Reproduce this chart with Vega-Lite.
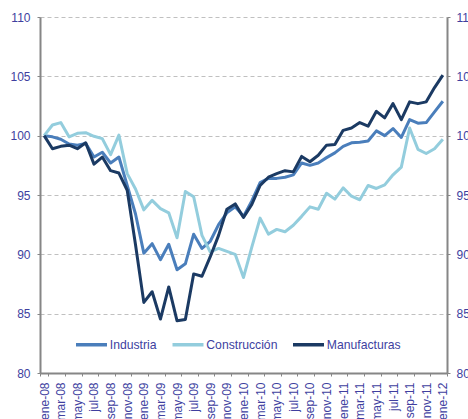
{
"$schema": "https://vega.github.io/schema/vega-lite/v6.json",
"width": 407, "height": 356,
"autosize": {"type": "none"},
"padding": {"left": 40, "top": 17, "right": 21, "bottom": 46},
"background": "white",
"config": {"view": {"stroke": null}, "font": "Liberation Sans"},
"datasets": {
"d": [
{"i":0,"mes":"ene-08","s":"Industria","v":100},{"i":1,"mes":"feb-08","s":"Industria","v":99.9},{"i":2,"mes":"mar-08","s":"Industria","v":99.7},{"i":3,"mes":"abr-08","s":"Industria","v":99.3},{"i":4,"mes":"may-08","s":"Industria","v":99.2},{"i":5,"mes":"jun-08","s":"Industria","v":99.35},{"i":6,"mes":"jul-08","s":"Industria","v":98.2},{"i":7,"mes":"ago-08","s":"Industria","v":98.6},{"i":8,"mes":"sep-08","s":"Industria","v":97.7},{"i":9,"mes":"oct-08","s":"Industria","v":98.2},{"i":10,"mes":"nov-08","s":"Industria","v":95.8},{"i":11,"mes":"dic-08","s":"Industria","v":93.4},
{"i":12,"mes":"ene-09","s":"Industria","v":90.1},{"i":13,"mes":"feb-09","s":"Industria","v":90.9},{"i":14,"mes":"mar-09","s":"Industria","v":89.55},{"i":15,"mes":"abr-09","s":"Industria","v":90.85},{"i":16,"mes":"may-09","s":"Industria","v":88.7},{"i":17,"mes":"jun-09","s":"Industria","v":89.2},{"i":18,"mes":"jul-09","s":"Industria","v":91.7},{"i":19,"mes":"ago-09","s":"Industria","v":90.5},{"i":20,"mes":"sep-09","s":"Industria","v":91.1},{"i":21,"mes":"oct-09","s":"Industria","v":92.5},{"i":22,"mes":"nov-09","s":"Industria","v":93.5},{"i":23,"mes":"dic-09","s":"Industria","v":94.0},
{"i":24,"mes":"ene-10","s":"Industria","v":93.2},{"i":25,"mes":"feb-10","s":"Industria","v":94.5},{"i":26,"mes":"mar-10","s":"Industria","v":96.05},{"i":27,"mes":"abr-10","s":"Industria","v":96.4},{"i":28,"mes":"may-10","s":"Industria","v":96.4},{"i":29,"mes":"jun-10","s":"Industria","v":96.5},{"i":30,"mes":"jul-10","s":"Industria","v":96.7},{"i":31,"mes":"ago-10","s":"Industria","v":97.7},{"i":32,"mes":"sep-10","s":"Industria","v":97.5},{"i":33,"mes":"oct-10","s":"Industria","v":97.7},{"i":34,"mes":"nov-10","s":"Industria","v":98.15},{"i":35,"mes":"dic-10","s":"Industria","v":98.55},
{"i":36,"mes":"ene-11","s":"Industria","v":99.1},{"i":37,"mes":"feb-11","s":"Industria","v":99.4},{"i":38,"mes":"mar-11","s":"Industria","v":99.45},{"i":39,"mes":"abr-11","s":"Industria","v":99.55},{"i":40,"mes":"may-11","s":"Industria","v":100.4},{"i":41,"mes":"jun-11","s":"Industria","v":100.0},{"i":42,"mes":"jul-11","s":"Industria","v":100.6},{"i":43,"mes":"ago-11","s":"Industria","v":99.85},{"i":44,"mes":"sep-11","s":"Industria","v":101.35},{"i":45,"mes":"oct-11","s":"Industria","v":101.05},{"i":46,"mes":"nov-11","s":"Industria","v":101.1},{"i":47,"mes":"dic-11","s":"Industria","v":102.0},
{"i":48,"mes":"ene-12","s":"Industria","v":102.9},
{"i":0,"mes":"ene-08","s":"Construcción","v":100},{"i":1,"mes":"feb-08","s":"Construcción","v":100.9},{"i":2,"mes":"mar-08","s":"Construcción","v":101.1},{"i":3,"mes":"abr-08","s":"Construcción","v":99.9},{"i":4,"mes":"may-08","s":"Construcción","v":100.2},{"i":5,"mes":"jun-08","s":"Construcción","v":100.25},{"i":6,"mes":"jul-08","s":"Construcción","v":99.95},{"i":7,"mes":"ago-08","s":"Construcción","v":99.75},{"i":8,"mes":"sep-08","s":"Construcción","v":98.4},{"i":9,"mes":"oct-08","s":"Construcción","v":100.05},{"i":10,"mes":"nov-08","s":"Construcción","v":96.8},{"i":11,"mes":"dic-08","s":"Construcción","v":95.5},
{"i":12,"mes":"ene-09","s":"Construcción","v":93.75},{"i":13,"mes":"feb-09","s":"Construcción","v":94.55},{"i":14,"mes":"mar-09","s":"Construcción","v":93.85},{"i":15,"mes":"abr-09","s":"Construcción","v":93.5},{"i":16,"mes":"may-09","s":"Construcción","v":91.4},{"i":17,"mes":"jun-09","s":"Construcción","v":95.3},{"i":18,"mes":"jul-09","s":"Construcción","v":94.85},{"i":19,"mes":"ago-09","s":"Construcción","v":91.6},{"i":20,"mes":"sep-09","s":"Construcción","v":90.2},{"i":21,"mes":"oct-09","s":"Construcción","v":90.5},{"i":22,"mes":"nov-09","s":"Construcción","v":90.25},{"i":23,"mes":"dic-09","s":"Construcción","v":90.0},
{"i":24,"mes":"ene-10","s":"Construcción","v":88.05},{"i":25,"mes":"feb-10","s":"Construcción","v":90.6},{"i":26,"mes":"mar-10","s":"Construcción","v":93.05},{"i":27,"mes":"abr-10","s":"Construcción","v":91.7},{"i":28,"mes":"may-10","s":"Construcción","v":92.1},{"i":29,"mes":"jun-10","s":"Construcción","v":91.9},{"i":30,"mes":"jul-10","s":"Construcción","v":92.45},{"i":31,"mes":"ago-10","s":"Construcción","v":93.2},{"i":32,"mes":"sep-10","s":"Construcción","v":94.0},{"i":33,"mes":"oct-10","s":"Construcción","v":93.8},{"i":34,"mes":"nov-10","s":"Construcción","v":95.15},{"i":35,"mes":"dic-10","s":"Construcción","v":94.65},
{"i":36,"mes":"ene-11","s":"Construcción","v":95.6},{"i":37,"mes":"feb-11","s":"Construcción","v":94.9},{"i":38,"mes":"mar-11","s":"Construcción","v":94.6},{"i":39,"mes":"abr-11","s":"Construcción","v":95.8},{"i":40,"mes":"may-11","s":"Construcción","v":95.55},{"i":41,"mes":"jun-11","s":"Construcción","v":95.85},{"i":42,"mes":"jul-11","s":"Construcción","v":96.7},{"i":43,"mes":"ago-11","s":"Construcción","v":97.35},{"i":44,"mes":"sep-11","s":"Construcción","v":100.65},{"i":45,"mes":"oct-11","s":"Construcción","v":98.85},{"i":46,"mes":"nov-11","s":"Construcción","v":98.5},{"i":47,"mes":"dic-11","s":"Construcción","v":98.9},
{"i":48,"mes":"ene-12","s":"Construcción","v":99.7},
{"i":0,"mes":"ene-08","s":"Manufacturas","v":100},{"i":1,"mes":"feb-08","s":"Manufacturas","v":98.9},{"i":2,"mes":"mar-08","s":"Manufacturas","v":99.1},{"i":3,"mes":"abr-08","s":"Manufacturas","v":99.2},{"i":4,"mes":"may-08","s":"Manufacturas","v":98.9},{"i":5,"mes":"jun-08","s":"Manufacturas","v":99.4},{"i":6,"mes":"jul-08","s":"Manufacturas","v":97.6},{"i":7,"mes":"ago-08","s":"Manufacturas","v":98.2},{"i":8,"mes":"sep-08","s":"Manufacturas","v":97.05},{"i":9,"mes":"oct-08","s":"Manufacturas","v":96.85},{"i":10,"mes":"nov-08","s":"Manufacturas","v":95.4},{"i":11,"mes":"dic-08","s":"Manufacturas","v":90.8},
{"i":12,"mes":"ene-09","s":"Manufacturas","v":85.95},{"i":13,"mes":"feb-09","s":"Manufacturas","v":86.85},{"i":14,"mes":"mar-09","s":"Manufacturas","v":84.55},{"i":15,"mes":"abr-09","s":"Manufacturas","v":87.25},{"i":16,"mes":"may-09","s":"Manufacturas","v":84.4},{"i":17,"mes":"jun-09","s":"Manufacturas","v":84.5},{"i":18,"mes":"jul-09","s":"Manufacturas","v":88.35},{"i":19,"mes":"ago-09","s":"Manufacturas","v":88.15},{"i":20,"mes":"sep-09","s":"Manufacturas","v":89.8},{"i":21,"mes":"oct-09","s":"Manufacturas","v":91.6},{"i":22,"mes":"nov-09","s":"Manufacturas","v":93.8},{"i":23,"mes":"dic-09","s":"Manufacturas","v":94.25},
{"i":24,"mes":"ene-10","s":"Manufacturas","v":93.1},{"i":25,"mes":"feb-10","s":"Manufacturas","v":94.2},{"i":26,"mes":"mar-10","s":"Manufacturas","v":95.8},{"i":27,"mes":"abr-10","s":"Manufacturas","v":96.5},{"i":28,"mes":"may-10","s":"Manufacturas","v":96.8},{"i":29,"mes":"jun-10","s":"Manufacturas","v":97.05},{"i":30,"mes":"jul-10","s":"Manufacturas","v":96.95},{"i":31,"mes":"ago-10","s":"Manufacturas","v":98.25},{"i":32,"mes":"sep-10","s":"Manufacturas","v":97.8},{"i":33,"mes":"oct-10","s":"Manufacturas","v":98.35},{"i":34,"mes":"nov-10","s":"Manufacturas","v":99.2},{"i":35,"mes":"dic-10","s":"Manufacturas","v":99.25},
{"i":36,"mes":"ene-11","s":"Manufacturas","v":100.45},{"i":37,"mes":"feb-11","s":"Manufacturas","v":100.65},{"i":38,"mes":"mar-11","s":"Manufacturas","v":101.1},{"i":39,"mes":"abr-11","s":"Manufacturas","v":100.8},{"i":40,"mes":"may-11","s":"Manufacturas","v":102.05},{"i":41,"mes":"jun-11","s":"Manufacturas","v":101.5},{"i":42,"mes":"jul-11","s":"Manufacturas","v":102.7},{"i":43,"mes":"ago-11","s":"Manufacturas","v":101.35},{"i":44,"mes":"sep-11","s":"Manufacturas","v":102.85},{"i":45,"mes":"oct-11","s":"Manufacturas","v":102.7},{"i":46,"mes":"nov-11","s":"Manufacturas","v":102.85},{"i":47,"mes":"dic-11","s":"Manufacturas","v":104.05},
{"i":48,"mes":"ene-12","s":"Manufacturas","v":105.1}
]
},
"data": {"name": "d"},
"encoding": {
  "x": {"field": "mes", "type": "nominal", "sort": null, "bandPosition": 0.5,
    "scale": {"type": "band", "paddingInner": 0, "paddingOuter": 0},
    "axis": {"title": null, "values": ["ene-08","mar-08","may-08","jul-08","sep-08","nov-08","ene-09","mar-09","may-09","jul-09","sep-09","nov-09","ene-10","mar-10","may-10","jul-10","sep-10","nov-10","ene-11","mar-11","may-11","jul-11","sep-11","nov-11","ene-12"],
      "tickBand": "extent", "labelAngle": -90, "labelAlign": "right", "labelBaseline": "middle",
      "labelFontSize": 12, "labelColor": "#403f9f", "labelFont": "Liberation Sans",
      "tickColor": "#868686", "tickSize": 3, "tickWidth": 1, "domainColor": "#868686", "domainWidth": 2,
      "labelPadding": 6, "grid": false}},
  "y": {"field": "v", "type": "quantitative", "scale": {"domain": [80, 110], "nice": false, "zero": false}},
  "color": {"field": "s", "type": "nominal",
    "scale": {"domain": ["Industria", "Construcción", "Manufacturas"], "range": ["#4a7ebb", "#93cddd", "#1b3a63"]},
    "legend": {"orient": "none", "legendX": 34, "legendY": 310, "direction": "horizontal", "title": null,
      "symbolType": "stroke", "symbolSize": 961, "symbolStrokeWidth": 3.5, "labelFontSize": 12.2,
      "labelColor": "#403f9f", "labelFont": "Liberation Sans", "columnPadding": 8.5, "labelOffset": 0.8, "padding": 0}},
  "order": {"field": "i", "type": "quantitative"}
},
"layer": [
  {"mark": {"type": "line", "opacity": 0},
   "encoding": {"y": {"field": "v", "type": "quantitative", "scale": {"domain": [80, 110], "nice": false, "zero": false},
     "axis": {"orient": "right", "title": null, "values": [80,85,90,95,100,105,110], "grid": false,
       "domainColor": "#868686", "domainWidth": 2, "tickColor": "#868686", "tickSize": 3,
       "labelPadding": 6, "labelFontSize": 12, "labelColor": "#403f9f", "labelFont": "Liberation Sans"}}}},
  {"mark": {"type": "line", "strokeWidth": 3, "strokeJoin": "round"},
   "encoding": {"y": {"field": "v", "type": "quantitative", "scale": {"domain": [80, 110], "nice": false, "zero": false},
     "axis": {"orient": "left", "title": null, "values": [80,85,90,95,100,105,110], "grid": true,
       "gridDash": [4, 3], "gridColor": "#c0c0c0", "gridWidth": 1,
       "domainColor": "#868686", "domainWidth": 2, "tickColor": "#868686", "tickSize": 3,
       "labelPadding": 7, "labelFontSize": 12, "labelColor": "#403f9f", "labelFont": "Liberation Sans"}}}}
],
"resolve": {"axis": {"y": "independent"}}
}
